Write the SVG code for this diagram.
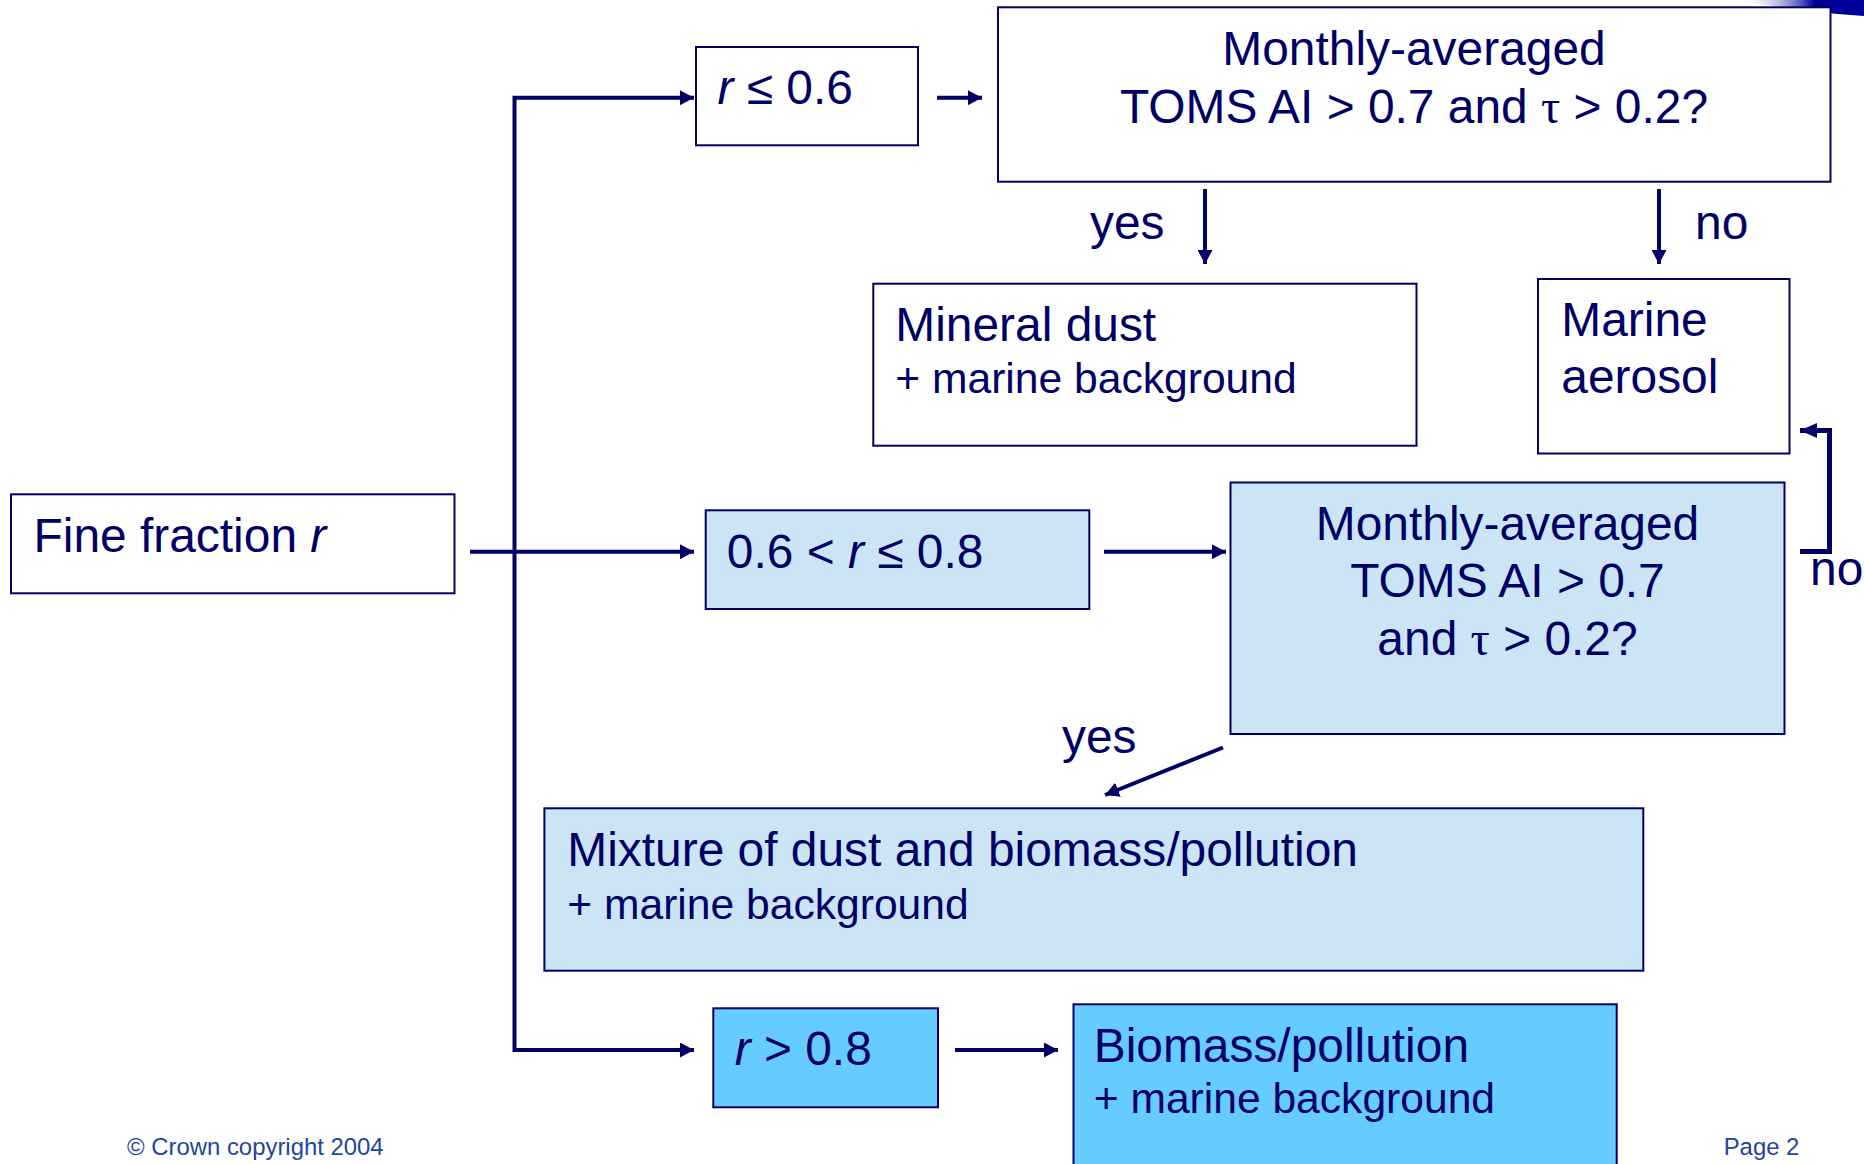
<svg xmlns="http://www.w3.org/2000/svg" width="1864" height="1164" viewBox="0 0 1864 1164">
<defs>
<style>
.box{stroke:#000066;stroke-width:2;}
.w{fill:#ffffff;}
.lb{fill:#CCE5F6;}
.db{fill:#66CCFF;}
.t{font-family:"Liberation Sans",Arial,sans-serif;fill:#000066;font-size:47.9px;}
.s{font-size:42.6px;}
.c{text-anchor:middle;}
.tau{font-family:"Liberation Serif","Times New Roman",serif;}
.i{font-style:italic;}
.ln{fill:none;stroke:#000066;stroke-width:4;}
.ft{font-family:"Liberation Sans",Arial,sans-serif;fill:#1F45A0;font-size:23.9px;}
</style>
<marker id="ah" markerUnits="userSpaceOnUse" markerWidth="14" markerHeight="15" refX="14" refY="7.5" orient="auto"><path d="M0,0 L14,7.5 L0,15 z" fill="#000066"/></marker>
<marker id="ah2" markerUnits="userSpaceOnUse" markerWidth="17" markerHeight="15" refX="17" refY="7.5" orient="auto"><path d="M0,0 L17,7.5 L0,15 z" fill="#000066"/></marker>
<linearGradient id="sw" x1="1740" y1="0" x2="1864" y2="0" gradientUnits="userSpaceOnUse"><stop offset="0" stop-color="#ffffff" stop-opacity="0"/><stop offset="0.6" stop-color="#000099"/><stop offset="1" stop-color="#000099"/></linearGradient>
</defs>
<rect width="1864" height="1164" fill="#ffffff"/>
<path d="M1740,0 L1864,0 L1864,16 Q1800,12 1740,0 z" fill="url(#sw)"/>

<g id="connectors">
<path class="ln" d="M514.5,551.7 L514.5,97.7 L694,97.7" marker-end="url(#ah)"/>
<path class="ln" d="M514.5,551.7 L514.5,1050 L694,1050" marker-end="url(#ah)"/>
<path class="ln" d="M470,551.7 L694,551.7" marker-end="url(#ah)"/>
<path class="ln" d="M937,97.7 L982,97.7" marker-end="url(#ah)"/>
<path class="ln" d="M1104,551.7 L1226,551.7" marker-end="url(#ah)"/>
<path class="ln" d="M955,1050 L1058,1050" marker-end="url(#ah)"/>
<path class="ln" d="M1205,189 L1205,264" marker-end="url(#ah)"/>
<path class="ln" d="M1659,189 L1659,264" marker-end="url(#ah)"/>
<path class="ln" d="M1223,747.5 L1105,795" marker-end="url(#ah)"/>
<path class="ln" style="stroke-width:5" d="M1800,551.5 L1829.5,551.5 L1829.5,430.5 L1800,430.5" marker-end="url(#ah2)"/>
<text class="t" x="1090" y="239">yes</text>
<text class="t" x="1695" y="239">no</text>
<text class="t" x="1062" y="753">yes</text>
<text class="t" x="1810" y="585">no</text>
</g>

<g id="fine">
<rect class="box w" x="11" y="494.3" width="443.5" height="99"/>
<text class="t" x="33.5" y="551.7">Fine fraction <tspan class="i">r</tspan></text>
</g>
<g id="r-low">
<rect class="box w" x="696" y="47" width="222" height="98.3"/>
<text class="t" x="717.5" y="104.3"><tspan class="i">r</tspan> ≤ 0.6</text>
</g>
<g id="q-top">
<rect class="box w" x="998" y="7.3" width="832.5" height="174.4"/>
<text class="t c" x="1414" y="65">Monthly-averaged</text>
<text class="t c" x="1414" y="122.7">TOMS AI &gt; 0.7 and <tspan class="tau">τ</tspan> &gt; 0.2?</text>
</g>
<g id="mineral">
<rect class="box w" x="873.3" y="283.7" width="543.2" height="162"/>
<text class="t" x="895.3" y="341">Mineral dust</text>
<text class="t s" x="895.3" y="393.3">+ marine background</text>
</g>
<g id="marine">
<rect class="box w" x="1538" y="279" width="251.5" height="174.5"/>
<text class="t" x="1561.3" y="336">Marine</text>
<text class="t" x="1561.3" y="392.7">aerosol</text>
</g>
<g id="r-mid">
<rect class="box lb" x="705.7" y="510.3" width="383.6" height="98.7"/>
<text class="t" x="726.8" y="568.3">0.6 &lt; <tspan class="i">r</tspan> ≤ 0.8</text>
</g>
<g id="q-mid">
<rect class="box lb" x="1230.5" y="482.5" width="554" height="251.5"/>
<text class="t c" x="1507.5" y="540">Monthly-averaged</text>
<text class="t c" x="1507.5" y="597.3">TOMS AI &gt; 0.7</text>
<text class="t c" x="1507.5" y="655">and <tspan class="tau">τ</tspan> &gt; 0.2?</text>
</g>
<g id="mixture">
<rect class="box lb" x="544.4" y="808.3" width="1098.9" height="162.4"/>
<text class="t" x="567.3" y="865.7">Mixture of dust and biomass/pollution</text>
<text class="t s" x="567.3" y="919">+ marine background</text>
</g>
<g id="r-high">
<rect class="box db" x="713.3" y="1008.3" width="224.7" height="99"/>
<text class="t" x="734.7" y="1065"><tspan class="i">r</tspan> &gt; 0.8</text>
</g>
<g id="biomass">
<rect class="box db" x="1073.5" y="1004.3" width="543.2" height="170"/>
<text class="t" x="1093.7" y="1061.7">Biomass/pollution</text>
<text class="t s" x="1093.7" y="1113.3">+ marine background</text>
</g>
<g id="footer">
<text class="ft" x="127" y="1155">© Crown copyright 2004</text>
<text class="ft" x="1723.7" y="1155">Page 2</text>
</g>
</svg>
